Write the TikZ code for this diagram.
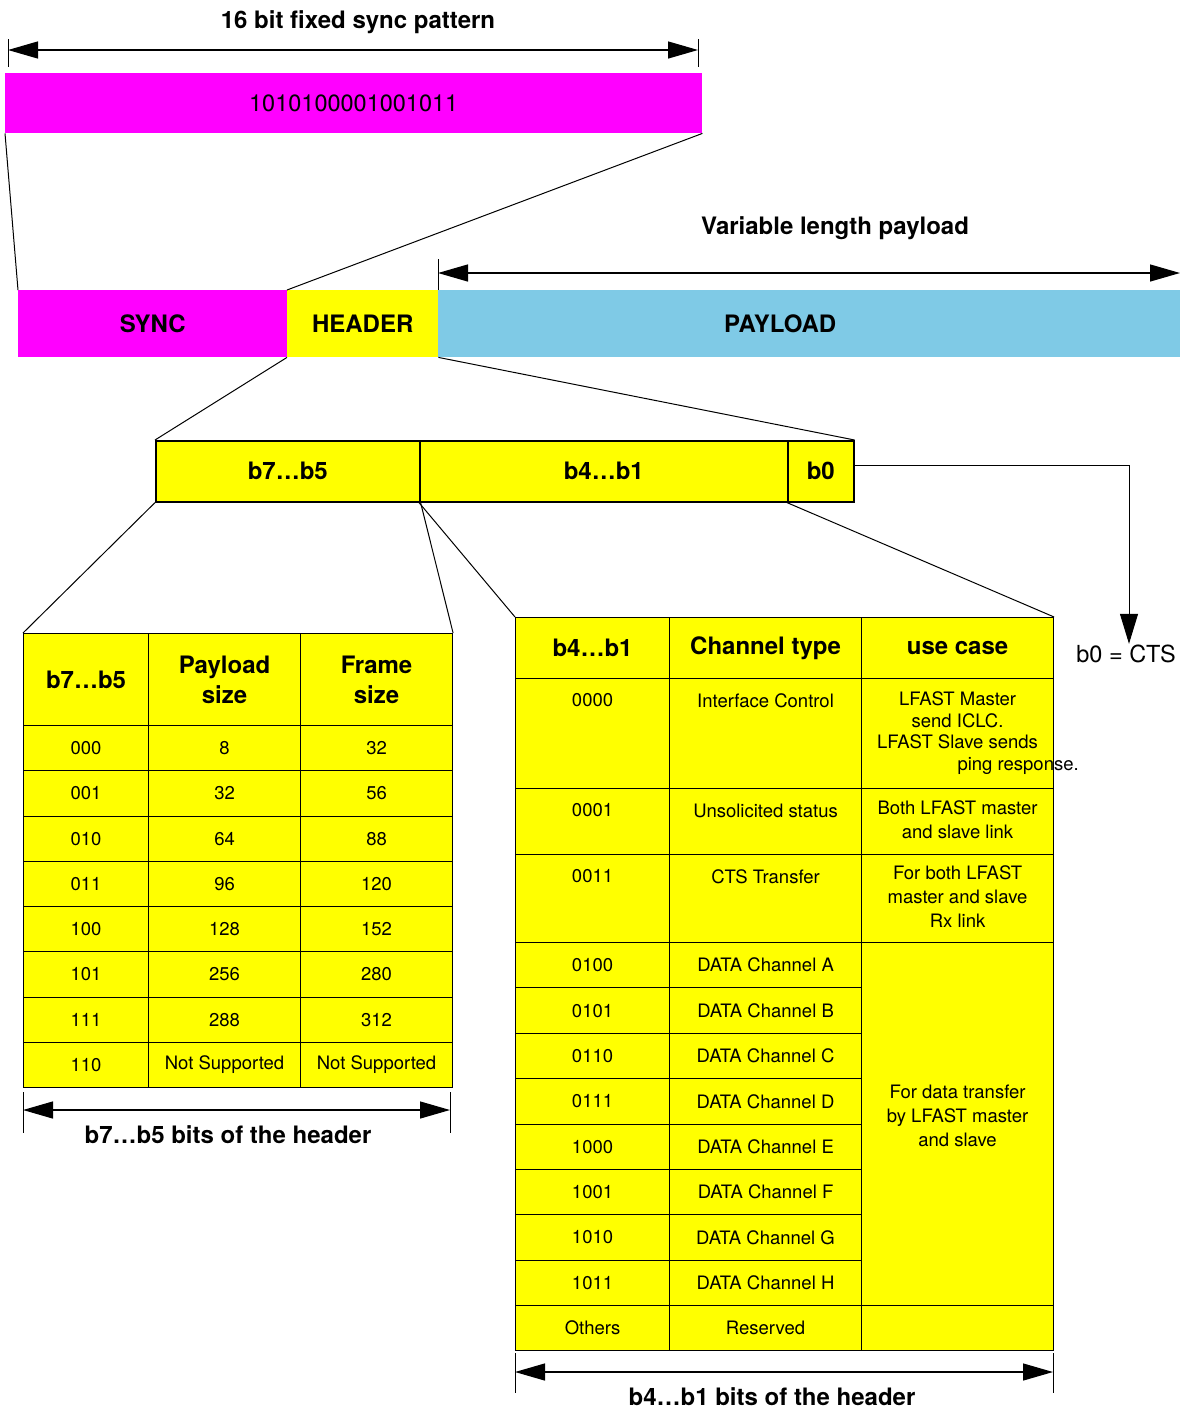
\documentclass[tikz,border=0pt]{standalone}
\usepackage{fontspec}
\setmainfont{TeX Gyre Heros}
\usetikzlibrary{arrows.meta}
\definecolor{payblue}{RGB}{127,202,230}
\definecolor{synmag}{RGB}{255,0,255}
\definecolor{hdryel}{RGB}{255,255,0}
\newcommand{\cellt}[4][15pt]{\parbox[t][#3][t]{#2}{\centering\vspace*{#1}#4}}

\begin{document}
\begin{tikzpicture}[x=1pt,y=-1pt,
    bar/.style={anchor=north west,inner sep=0pt,minimum height=#1},
    bf/.style={font=\fontsize{24}{29}\selectfont\bfseries},
    hc/.style={draw,line width=1.1pt,fill=hdryel,anchor=north west,inner sep=0pt,minimum width=#1,align=center,font=\fontsize{24}{30}\selectfont\bfseries},
    lc/.style={draw,line width=1.1pt,fill=hdryel,anchor=north west,inner sep=0pt,minimum width=#1,minimum height=45.25pt,font=\fontsize{18.5}{24}\selectfont},
    rc/.style={lc=#1,minimum height=45.375pt},
    tc/.style={draw,line width=1.1pt,fill=hdryel,anchor=north west,inner sep=0pt,font=\fontsize{18.5}{24}\selectfont},
    bit/.style={draw,line width=1.6pt,fill=hdryel,anchor=north west,inner sep=0pt,minimum height=61pt,minimum width=#1,font=\fontsize{24}{29}\selectfont\bfseries},
    zl/.style={line width=1pt},
    dim/.style={{Triangle[length=30pt,width=17pt]}-{Triangle[length=30pt,width=17pt]},line width=1.3pt},
    tick/.style={line width=0.9pt}]
    \useasboundingbox (0,0) rectangle (1180,1409);

    % sync pattern
    \node[bf] (t1) at (358,22) {16 bit fixed sync pattern};
    \coordinate (p1) at (8,50);
    \coordinate (p2) at (698,50);
    \node[bar=60pt,minimum width=697pt,fill=synmag,font=\fontsize{23.5}{28}\selectfont] (pat) at (5,73) {1010100001001011};

    % frame
    \node[bar=67pt,minimum width=269pt,fill=synmag,bf] (sync) at (18,290) {SYNC};
    \node[bar=67pt,minimum width=151pt,fill=hdryel,bf] (hdr) at (287,290) {HEADER};
    \node[bar=67pt,minimum width=742pt,fill=payblue,bf] (pay) at (438,290) {PAYLOAD\hspace*{58pt}};
    \node[bf] (t2) at (835,228) {Variable length payload};
    \coordinate (q1) at (438,273);
    \coordinate (q2) at (1180,273);

    % header bits
    \node[bit=264pt] (b75) at (155,440) {b7…b5};
    \node[bit=368pt] (b41) at (419,440) {b4…b1};
    \node[bit=66pt] (b0) at (787,440) {b0};
    \node[font=\fontsize{23.5}{28}\selectfont,inner sep=1pt] (cts) at (1126,654) {b0 = CTS};

    % b7...b5 table
    \node[hc=125pt,minimum height=92pt] (l1) at (23,633) {b7…b5};
    \node[hc=152pt,minimum height=92pt] (l2) at (148,633) {Payload\\size};
    \node[hc=152pt,minimum height=92pt] (l3) at (300,633) {Frame\\size};
    \node[lc=125pt] (a1) at (23,725) {000};
    \node[lc=152pt] (b1) at (148,725) {8};
    \node[lc=152pt] (c1) at (300,725) {32};
    \node[lc=125pt] (a2) at (23,770.25) {001};
    \node[lc=152pt] (b2) at (148,770.25) {32};
    \node[lc=152pt] (c2) at (300,770.25) {56};
    \node[lc=125pt] (a3) at (23,815.5) {010};
    \node[lc=152pt] (b3) at (148,815.5) {64};
    \node[lc=152pt] (c3) at (300,815.5) {88};
    \node[lc=125pt] (a4) at (23,860.75) {011};
    \node[lc=152pt] (b4) at (148,860.75) {96};
    \node[lc=152pt] (c4) at (300,860.75) {120};
    \node[lc=125pt] (a5) at (23,906) {100};
    \node[lc=152pt] (b5) at (148,906) {128};
    \node[lc=152pt] (c5) at (300,906) {152};
    \node[lc=125pt] (a6) at (23,951.25) {101};
    \node[lc=152pt] (b6) at (148,951.25) {256};
    \node[lc=152pt] (c6) at (300,951.25) {280};
    \node[lc=125pt] (a7) at (23,996.5) {111};
    \node[lc=152pt] (b7) at (148,996.5) {288};
    \node[lc=152pt] (c7) at (300,996.5) {312};
    \node[lc=125pt] (a8) at (23,1041.75) {110};
    \node[lc=152pt] (b8) at (148,1041.75) {Not Supported};
    \node[lc=152pt] (c8) at (300,1041.75) {Not Supported};
    \coordinate (u1) at (23,1110);
    \coordinate (u2) at (450,1110);
    \node[bf] (t3) at (228,1135) {b7…b5 bits of the header};

    % b4...b1 table
    \node[hc=154pt,minimum height=61pt] (r1) at (515,617) {b4…b1};
    \node[hc=192pt,minimum height=61pt] (r2) at (669,617) {Channel type};
    \node[hc=192pt,minimum height=61pt] (r3) at (861,617) {use case};
    \node[tc] (d1) at (515,678) {\cellt{154pt}{110pt}{0000}};
    \node[tc] (e1) at (669,678) {\cellt{192pt}{110pt}{Interface Control}};
    \node[tc] (f1) at (861,678) {\cellt[13pt]{192pt}{110pt}{\baselineskip=21.7pt LFAST Master\\send ICLC.\\LFAST Slave sends\\\makebox[0pt][l]{ping response.}}};
    \node[tc] (d2) at (515,788) {\cellt{154pt}{66pt}{0001}};
    \node[tc] (e2) at (669,788) {\cellt{192pt}{66pt}{Unsolicited status}};
    \node[tc] (f2) at (861,788) {\cellt[12pt]{192pt}{66pt}{Both LFAST master\\and slave link}};
    \node[tc] (d3) at (515,854) {\cellt{154pt}{88pt}{0011}};
    \node[tc] (e3) at (669,854) {\cellt{192pt}{88pt}{CTS Transfer}};
    \node[tc] (f3) at (861,854) {\cellt[11pt]{192pt}{88pt}{For both LFAST\\master and slave\\Rx link}};
    \node[rc=154pt] (d4) at (515,942) {0100};
    \node[rc=192pt] (e4) at (669,942) {DATA Channel A};
    \node[rc=154pt] (d5) at (515,987.375) {0101};
    \node[rc=192pt] (e5) at (669,987.375) {DATA Channel B};
    \node[rc=154pt] (d6) at (515,1032.75) {0110};
    \node[rc=192pt] (e6) at (669,1032.75) {DATA Channel C};
    \node[rc=154pt] (d7) at (515,1078.125) {0111};
    \node[rc=192pt] (e7) at (669,1078.125) {DATA Channel D};
    \node[rc=154pt] (d8) at (515,1123.5) {1000};
    \node[rc=192pt] (e8) at (669,1123.5) {DATA Channel E};
    \node[rc=154pt] (d9) at (515,1168.875) {1001};
    \node[rc=192pt] (e9) at (669,1168.875) {DATA Channel F};
    \node[rc=154pt] (d10) at (515,1214.25) {1010};
    \node[rc=192pt] (e10) at (669,1214.25) {DATA Channel G};
    \node[rc=154pt] (d11) at (515,1259.625) {1011};
    \node[rc=192pt] (e11) at (669,1259.625) {DATA Channel H};
    \node[tc] (f4) at (861,942) {\cellt[142pt]{192pt}{363pt}{For data transfer\\by LFAST master\\and slave}};
    \node[rc=154pt] (d12) at (515,1305) {Others};
    \node[rc=192pt] (e12) at (669,1305) {Reserved};
    \node[rc=192pt] (f12) at (861,1305) {};
    \coordinate (v1) at (515,1372);
    \coordinate (v2) at (1053,1372);
    \node[bf] (t4) at (772,1397) {b4…b1 bits of the header};

    % zoom lines
    \path[zl]
    (pat.south west) edge (sync.north west)
    (pat.south east) edge (hdr.north west)
    (hdr.south west) edge (b75.north west)
    (hdr.south east) edge (b0.north east)
    (b75.south west) edge (l1.north west)
    (b75.south east) edge (l3.north east)
    (b41.south west) edge (r1.north west)
    (b0.south west) edge (r3.north east);

    % dimension arrows
    \draw[dim] (p1) -- (p2);
    \draw[tick] ([yshift=11pt]p1) -- ([yshift=-17pt]p1);
    \draw[tick] ([yshift=11pt]p2) -- ([yshift=-17pt]p2);
    \draw[dim] (q1) -- (q2);
    \draw[tick] ([yshift=14pt]q1) -- ([yshift=-17pt]q1);
    \draw[tick] ([yshift=14pt]q2) -- ([yshift=-17pt]q2);
    \draw[dim] (u1) -- (u2);
    \draw[tick] ([yshift=18pt]u1) -- ([yshift=-23pt]u1);
    \draw[tick] ([yshift=18pt]u2) -- ([yshift=-23pt]u2);
    \draw[dim] (v1) -- (v2);
    \draw[tick] ([yshift=19pt]v1) -- ([yshift=-21pt]v1);
    \draw[tick] ([yshift=19pt]v2) -- ([yshift=-21pt]v2);

    \draw[line width=1pt,-{Triangle[length=30pt,width=18pt]}] ([yshift=6pt]b0.east) -| ([xshift=3pt]cts.north);
\end{tikzpicture}
\end{document}
